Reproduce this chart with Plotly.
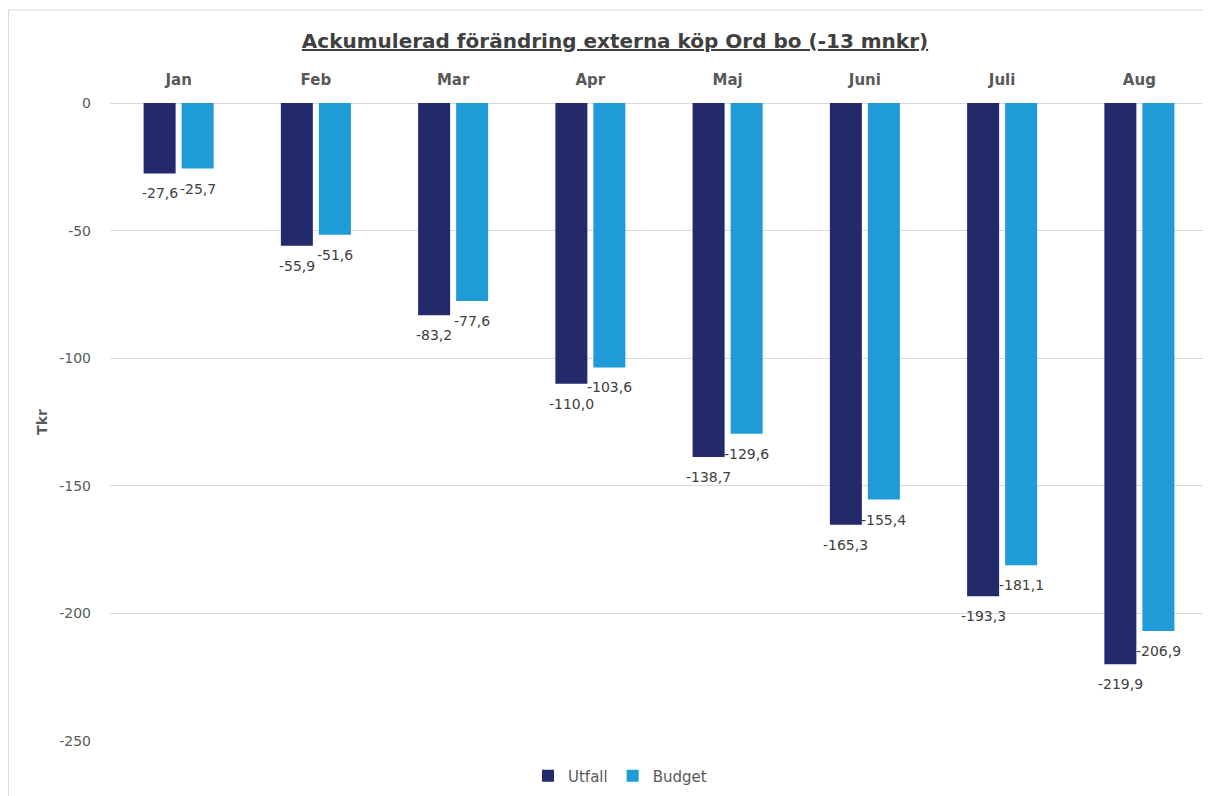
import plotly.graph_objects as go

months = ["Jan", "Feb", "Mar", "Apr", "Maj", "Juni", "Juli", "Aug"]
utfall = [-27.6, -55.9, -83.2, -110.0, -138.7, -165.3, -193.3, -219.9]
budget = [-25.7, -51.6, -77.6, -103.6, -129.6, -155.4, -181.1, -206.9]
y_ticks = [0, -50, -100, -150, -200, -250]
y_tick_labels = ["0", "-50", "-100", "-150", "-200", "-250"]

def fmt(v):
    return f"{v:.1f}".replace(".", ",")

FONT = "DejaVu Sans"
TXT = "#404040"
LBL = "#595959"

fig = go.Figure()
fig.add_trace(go.Bar(
    name="Utfall", x=months, y=utfall,
    marker=dict(color="#232A6B", line=dict(width=0)),
))
fig.add_trace(go.Bar(
    name="Budget", x=months, y=budget,
    marker=dict(color="#1F9CD8", line=dict(width=0)),
))

# data labels, centred under each bar end
for vals, dx in ((utfall, -19), (budget, 19)):
    for m, v in zip(months, vals):
        fig.add_annotation(
            x=m, y=v, xref="x", yref="y", text=fmt(v), showarrow=False,
            xshift=dx, yshift=-20, xanchor="center", yanchor="middle",
            font=dict(family=FONT, size=14, color=TXT),
        )

# the page body adds an 8px offset; figure coordinates below are page coords - 8
OFF = 8
W, H = 1211 - OFF, 796 - OFF
ml, mr, mt, mb = 110 - OFF, 3, 103 - OFF, 55
pw, ph = W - ml - mr, H - mt - mb

fig.update_layout(
    width=W, height=H,
    margin=dict(l=ml, r=mr, t=mt, b=mb, autoexpand=False),
    paper_bgcolor="white", plot_bgcolor="white",
    font=dict(family=FONT, color=LBL, size=14),
    barmode="group", bargap=0.446, bargroupgap=0.158,
    title=dict(
        text="<b><u>Ackumulerad förändring externa köp Ord bo (-13 mnkr)</u></b>",
        x=(615 - OFF - ml) / pw, xref="paper", xanchor="center",
        y=1 - (41 - OFF) / H, yanchor="middle",
        font=dict(family=FONT, size=20, color=TXT),
    ),
    xaxis=dict(
        side="top", showgrid=False, showline=False, ticks="", automargin=False,
        tickfont=dict(family=FONT, size=15, color=LBL, weight="bold"),
        ticklabelstandoff=14,
    ),
    yaxis=dict(
        range=[-250, 0], tickvals=y_ticks, ticktext=y_tick_labels, automargin=False,
        showgrid=True, gridcolor="#d9d9d9", gridwidth=1,
        zeroline=True, zerolinecolor="#d9d9d9", zerolinewidth=1,
        showline=False, ticks="", ticklabelstandoff=18,
        tickfont=dict(family=FONT, size=14, color=LBL),
        title=dict(text="<b>Tkr</b>", font=dict(family=FONT, size=14, color=LBL), standoff=8),
    ),
    legend=dict(
        orientation="h", x=(620 - OFF - ml) / pw, xanchor="center",
        y=-(776 - OFF - (H - mb)) / ph, yanchor="middle",
        font=dict(family=FONT, size=15, color=LBL),
        itemwidth=30, traceorder="normal",
    ),
    showlegend=True,
)

# outer chart border (left and top edges visible; right/bottom run off the page)
fig.add_shape(
    type="rect", xref="paper", yref="paper", layer="below",
    x0=(0.5 - ml) / pw, x1=(W + 20 - ml) / pw,
    y0=-(mb + 20) / ph, y1=1 + (mt - 2) / ph,
    line=dict(color="#d9d9d9", width=1), fillcolor="rgba(0,0,0,0)",
)

fig.write_html("out.html")
